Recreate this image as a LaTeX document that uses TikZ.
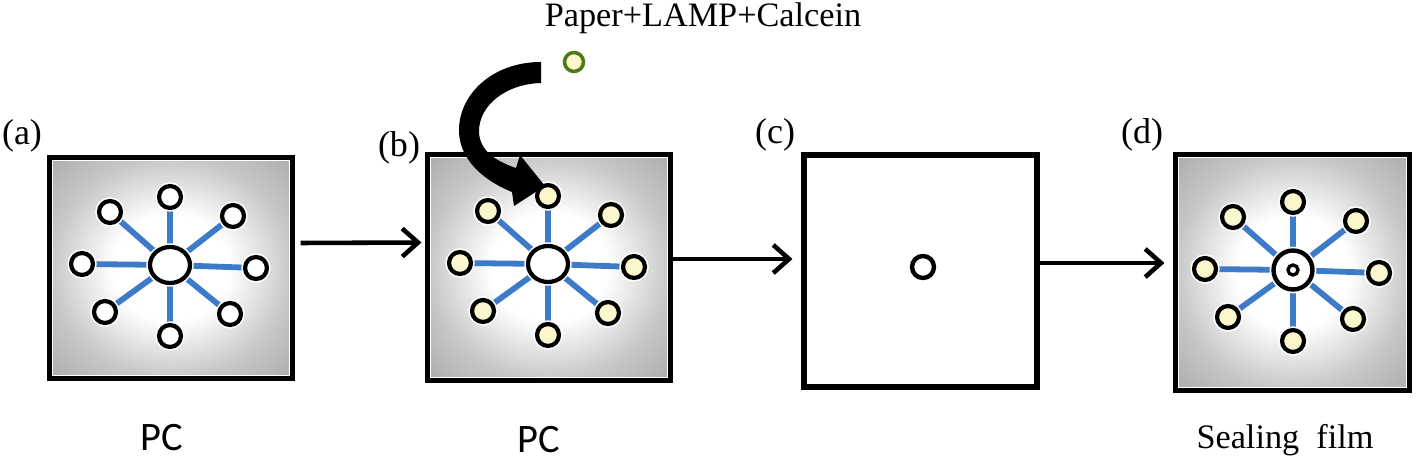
\documentclass[tikz,border=0pt]{standalone}
\usepackage{fontspec}
\setmainfont{Liberation Serif}
\newfontfamily\pcfont{Carlito}
\usetikzlibrary{shapes.geometric,arrows.meta}
\pgfdeclarelayer{boxes}
\pgfdeclarelayer{spokes}
\pgfsetlayers{boxes,spokes,main}
\pgfdeclareradialshading{boxshade}{\pgfpoint{0bp}{0bp}}{color(0bp)=(white); color(12bp)=(white); color(25bp)=(black!22); color(36bp)=(black!33); color(50bp)=(black!33)}
\definecolor{spokeblue}{HTML}{3D7BC9}
\definecolor{wellyellow}{HTML}{FBF7CC}
\definecolor{olive}{HTML}{4E7A14}
\tikzset{
  chip/.style={draw=black, line width=2.9pt, shading=boxshade, inner sep=0pt, minimum width=#1},
  plainchip/.style={draw=black, line width=2.9pt, fill=white, inner sep=0pt},
  well/.style={circle, draw=black, line width=2.4pt, fill=#1, minimum size=0.44cm, inner sep=0pt, preaction={draw=white, line width=4.2pt}},
  hub/.style={ellipse, draw=black, line width=2.4pt, fill=white, minimum width=0.8cm, minimum height=0.72cm, inner sep=0pt, preaction={draw=white, line width=4.2pt}},
  spoke/.style={draw=spokeblue, line width=3.3pt},
  flow/.style={draw=black, line width=2.6pt, -{Straight Barb[length=9pt,width=16pt]}},
  lab/.style={font=\fontsize{20.5pt}{24pt}\selectfont, inner sep=0pt},
  captext/.style={font=\fontsize{19.5pt}{23pt}\selectfont, inner sep=0pt},
  pclab/.style={font=\pcfont\fontsize{23pt}{27pt}\selectfont, inner sep=0pt}
}
\newcommand{\mkstar}[4]{%
  % #1 prefix, #2 cx, #3 cy, #4 well fill
  \node[well=#4] (#1-o1) at (#2+0,#3-68) {};
  \node[well=#4] (#1-o2) at (#2-60,#3-53) {};
  \node[well=#4] (#1-o3) at (#2+63,#3-49) {};
  \node[well=#4] (#1-o4) at (#2-88,#3-1) {};
  \node[well=#4] (#1-o5) at (#2+86,#3+3) {};
  \node[well=#4] (#1-o6) at (#2-65,#3+47) {};
  \node[well=#4] (#1-o7) at (#2+0,#3+71) {};
  \node[well=#4] (#1-o8) at (#2+60,#3+49) {};
  \begin{pgfonlayer}{spokes}
    \foreach \k in {1,...,8} {\draw[spoke] (#1-ctr.center) -- (#1-o\k.center);}
  \end{pgfonlayer}
}
\begin{document}
\begin{tikzpicture}[x=0.02cm,y=-0.02cm]
\useasboundingbox (0,0) rectangle (1418,462);

% boxes
\begin{pgfonlayer}{boxes}
\fill[white] (0,0) rectangle (1418,462);
\node[chip=4.84cm, minimum height=4.4cm] (a) at (171,268) {};
\node[chip=4.84cm, minimum height=4.5cm] (b) at (549,267.5) {};
\node[plainchip, minimum width=4.66cm, minimum height=4.64cm] (c) at (920.5,271) {};
\node[chip=4.66cm, minimum height=4.7cm] (d) at (1292.5,272.5) {};
\foreach \bx in {a,b,d} {
  \draw[white, line width=0.8pt] ([shift={(5,5)}]\bx.north west) rectangle ([shift={(-5,-5)}]\bx.south east);
}
\end{pgfonlayer}

% star (a)
\node[hub] (a-ctr) at (170,265) {};
\mkstar{a}{170}{265}{white}
% star (b)
\node[hub] (b-ctr) at (548,264) {};
\mkstar{b}{548}{264}{wellyellow}
% (c) hole
\node[circle, draw=black, line width=2.5pt, fill=white, minimum size=0.44cm, inner sep=0pt] (c-hole) at (923,267) {};
% star (d)
\node[circle, draw=black, line width=2.5pt, fill=white, minimum size=0.78cm, inner sep=0pt, preaction={draw=white, line width=4.4pt}] (d-ctr) at (1293,270) {};
\node[circle, draw=black, line width=1.9pt, fill=white, minimum size=0.2cm, inner sep=0pt] (d-in) at (1293,270) {};
\mkstar{d}{1293}{270}{wellyellow}

% labels
\node[lab] (la) at (22,136) {(a)};
\node[lab] (lb) at (399,148) {(b)};
\node[lab] (lc) at (775,135) {(c)};
\node[lab] (ld) at (1142,135) {(d)};
\node[pclab] (pa) at (162,438) {PC};
\node[pclab] (pb) at (539,440) {PC};
\node[captext] (pd) at (1285,440) {Sealing\hspace{0.25em} film};
\node[captext] (title) at (703,18) {Paper+LAMP+Calcein};

% paper disc
\node[circle, draw=olive, line width=2pt, fill=wellyellow, minimum size=0.38cm, inner sep=0pt] (g) at (574,62) {};

% flow arrows
\draw[flow] ([shift={(6,-25)}]a.east) -- ([shift={(-4,-25)}]b.west);
\draw[flow] ([shift={(0,-8.5)}]b.east) -- ([shift={(-9,-12)}]c.west);
\draw[flow] ([shift={(0,-8)}]c.east) -- ([shift={(-9,-9.5)}]d.west);

% curved thick arrow
\coordinate (cs) at (541,62);
\coordinate (ctip) at (545,186);
\fill[black] (cs) .. controls (492,62) and (458,95) .. (459,132)
  .. controls (460,162) and (487,182) .. (512,192)
  -- (514,206) -- (ctip) -- (520,155) -- (516,168)
  .. controls (495,161) and (479,150) .. (479,131)
  .. controls (479,106) and (505,84) .. (541,83) -- cycle;
\end{tikzpicture}
\end{document}
